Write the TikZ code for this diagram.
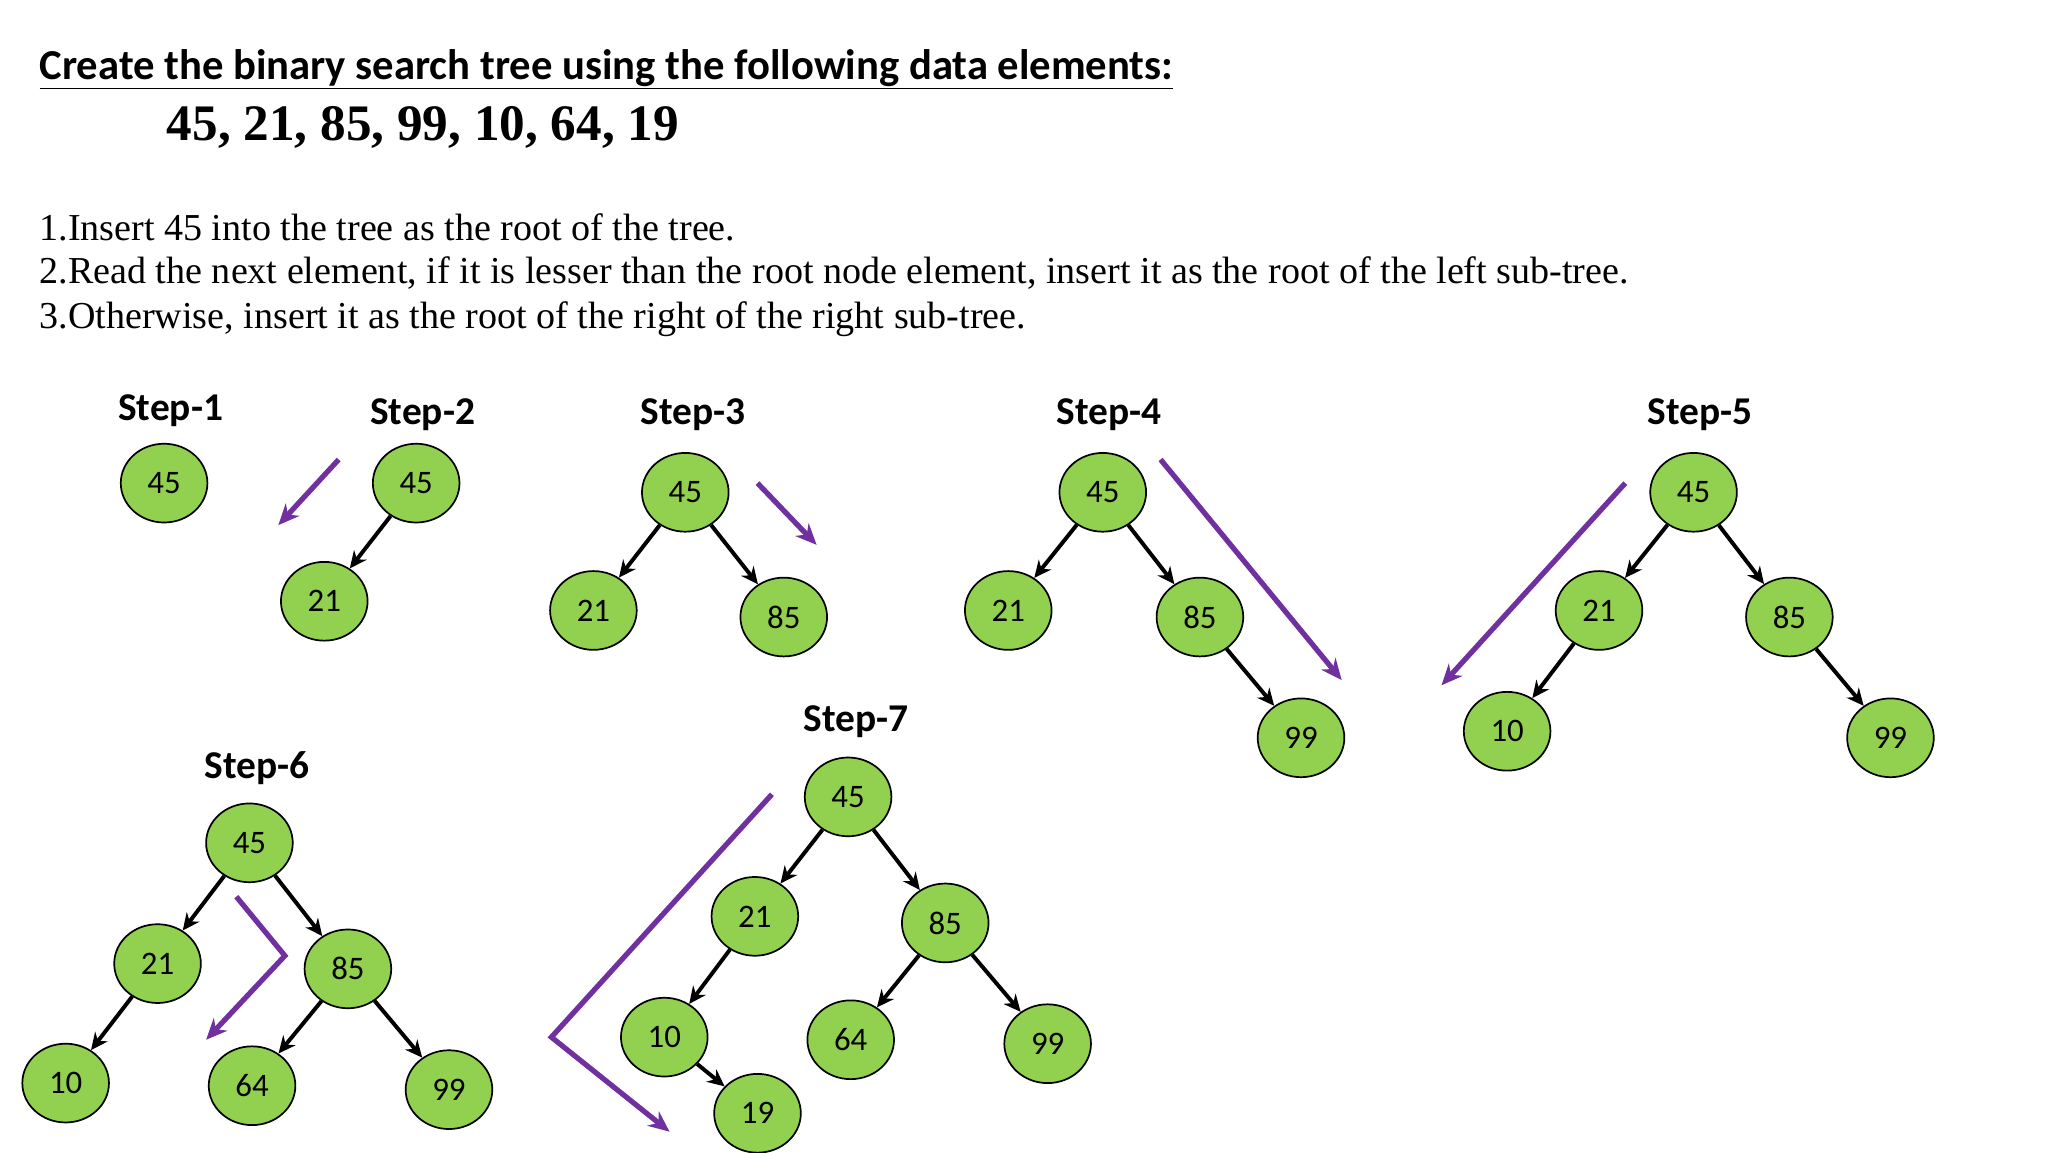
\documentclass[tikz,border=0pt]{standalone}
\usepackage{fontspec}
\setmainfont{Liberation Serif}
\setsansfont{Carlito}
\usetikzlibrary{shapes.geometric,arrows.meta}
\definecolor{ngreen}{HTML}{92D050}
\definecolor{npurple}{HTML}{7030A0}
\begin{document}
\begin{tikzpicture}[x=1pt,y=-1pt,
 bst/.style={ellipse,draw=black,line width=1.3pt,fill=ngreen,minimum width=66pt,minimum height=60pt,inner sep=0pt,font=\sffamily\fontsize{25}{28}\selectfont},
 steplbl/.style={font=\sffamily\bfseries\fontsize{30}{34}\selectfont},
 edge/.style={line width=3pt,-{Stealth[length=13pt,width=12pt]}},
 parr/.style={npurple,line width=4pt,-{Stealth[length=16pt,width=14pt]}},
 txt/.style={anchor=west,inner sep=0pt,font=\fontsize{29}{34}\selectfont}]
\useasboundingbox (0,0) rectangle (1560,878);
\node[anchor=west,inner sep=0pt,font=\sffamily\bfseries\fontsize{32.5}{36}\selectfont] (title) at (30,53) {\underline{Create the binary search tree using the following data elements:}};
\node[anchor=west,inner sep=0pt,font=\bfseries\fontsize{39}{44}\selectfont] (data) at (127,97) {45, 21, 85, 99, 10, 64, 19};
\node[txt] (l1) at (30,173) {1.Insert 45 into the tree as the root of the tree.};
\node[txt] (l2) at (30,208) {2.Read the next element, if it is lesser than the root node element, insert it as the root of the left sub-tree.};
\node[txt] (l3) at (30,243) {3.Otherwise, insert it as the root of the right of the right sub-tree.};
% Step 1
\node[steplbl] (s1) at (130,313) {Step-1};
\node[bst] (a45) at (125,368) {45};
% Step 2
\node[steplbl] (s2) at (322,316) {Step-2};
\node[bst] (b45) at (317,368) {45};
\node[bst] (b21) at (247,458) {21};
\draw[edge] (b45) -- (b21);
\coordinate (bp1) at (258,350); \coordinate (bp2) at (212,400);
\draw[parr] (bp1) -- (bp2);
% Step 3
\node[steplbl] (s3) at (528,316) {Step-3};
\node[bst] (c45) at (522,375) {45};
\node[bst] (c21) at (452,465) {21};
\node[bst] (c85) at (597,470) {85};
\draw[edge] (c45) -- (c21); \draw[edge] (c45) -- (c85);
\coordinate (cp1) at (577,368); \coordinate (cp2) at (622,415);
\draw[parr] (cp1) -- (cp2);
% Step 4
\node[steplbl] (s4) at (845,316) {Step-4};
\node[bst] (d45) at (840,375) {45};
\node[bst] (d21) at (768,465) {21};
\node[bst] (d85) at (914,470) {85};
\node[bst] (d99) at (991,562) {99};
\draw[edge] (d45) -- (d21); \draw[edge] (d45) -- (d85); \draw[edge] (d85) -- (d99);
\coordinate (dp1) at (884,350); \coordinate (dp2) at (1022,518);
\draw[parr] (dp1) -- (dp2);
% Step 5
\node[steplbl] (s5) at (1295,316) {Step-5};
\node[bst] (e45) at (1290,375) {45};
\node[bst] (e21) at (1218,465) {21};
\node[bst] (e85) at (1363,470) {85};
\node[bst] (e10) at (1148,557) {10};
\node[bst] (e99) at (1440,562) {99};
\draw[edge] (e45) -- (e21); \draw[edge] (e45) -- (e85); \draw[edge] (e85) -- (e99); \draw[edge] (e21) -- (e10);
\coordinate (ep1) at (1238,368); \coordinate (ep2) at (1098,522);
\draw[parr] (ep1) -- (ep2);
% Step 6
\node[steplbl] (s6) at (196,585) {Step-6};
\node[bst] (f45) at (190,642) {45};
\node[bst] (f21) at (120,734) {21};
\node[bst] (f85) at (265,738) {85};
\node[bst] (f10) at (50,825) {10};
\node[bst] (f64) at (192,827) {64};
\node[bst] (f99) at (342,830) {99};
\draw[edge] (f45) -- (f21); \draw[edge] (f45) -- (f85); \draw[edge] (f21) -- (f10);
\draw[edge] (f85) -- (f64); \draw[edge] (f85) -- (f99);
\coordinate (fp1) at (180,683); \coordinate (fp2) at (217,728); \coordinate (fp3) at (157,792);
\draw[parr] (fp1) -- (fp2) -- (fp3);
% Step 7
\node[steplbl] (s7) at (652,550) {Step-7};
\node[bst] (g45) at (646,607) {45};
\node[bst] (g21) at (575,698) {21};
\node[bst] (g85) at (720,703) {85};
\node[bst] (g10) at (506,790) {10};
\node[bst] (g64) at (648,792) {64};
\node[bst] (g99) at (798,795) {99};
\node[bst] (g19) at (577,848) {19};
\draw[edge] (g45) -- (g21); \draw[edge] (g45) -- (g85); \draw[edge] (g21) -- (g10);
\draw[edge] (g85) -- (g64); \draw[edge] (g85) -- (g99); \draw[edge] (g10) -- (g19);
\coordinate (gp1) at (588,605); \coordinate (gp2) at (420,790); \coordinate (gp3) at (510,862);
\draw[parr] (gp1) -- (gp2) -- (gp3);
\end{tikzpicture}
\end{document}
